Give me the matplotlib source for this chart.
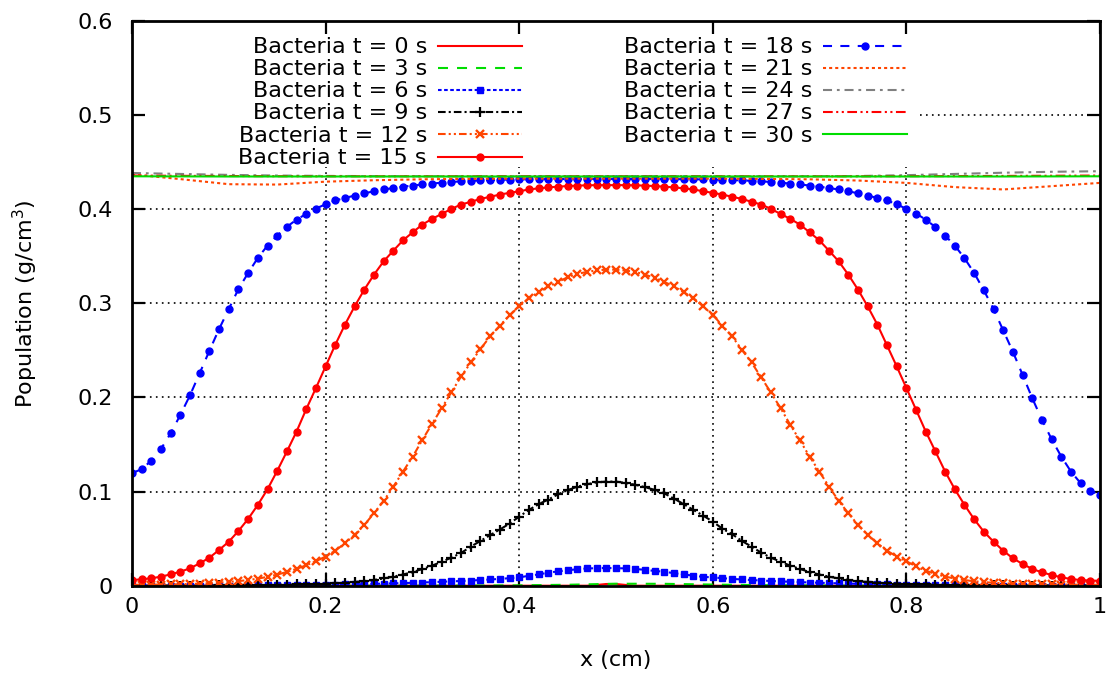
import numpy as np
import matplotlib
matplotlib.use('Agg')
import matplotlib.pyplot as plt

plt.rcParams['font.family'] = 'DejaVu Sans'
plt.rcParams['font.size'] = 16
plt.rcParams['mathtext.default'] = 'regular'
plt.rcParams['lines.scale_dashes'] = False

# ---------------- data ----------------
x_fine = np.linspace(0.0, 1.0, 101)      # solver grid, dx = 0.01
x_coarse = np.linspace(0.0, 1.0, 21)     # for the curves drawn without markers

t0_x = [0.0, 0.47, 0.48, 0.49, 0.50, 0.51, 0.52, 1.0]
t0 = [0.0, 0.0, 0.0008, 0.0018, 0.0018, 0.0008, 0.0, 0.0]

t3 = [0.0, 0.0, 0.0, 0.0, 0.0, 0.0, 0.0001, 0.0002, 0.0004, 0.0010,
      0.0021, 0.0020, 0.0012, 0.0006, 0.0003, 0.0001, 0.0, 0.0, 0.0, 0.0, 0.0]

t6 = [0.0000, 0.0000, 0.0000, 0.0000, 0.0001, 0.0001, 0.0001, 0.0001, 0.0001, 0.0001,
      0.0002, 0.0002, 0.0002, 0.0003, 0.0003, 0.0004, 0.0005, 0.0006, 0.0007, 0.0008,
      0.0010, 0.0011, 0.0013, 0.0015, 0.0017, 0.0020, 0.0022, 0.0025, 0.0028, 0.0031,
      0.0034, 0.0038, 0.0042, 0.0046, 0.0050, 0.0055, 0.0060, 0.0066, 0.0072, 0.0080,
      0.0089, 0.0105, 0.0120, 0.0138, 0.0152, 0.0164, 0.0175, 0.0183, 0.0186, 0.0188,
      0.0186, 0.0184, 0.0178, 0.0168, 0.0157, 0.0148, 0.0133, 0.0120, 0.0106, 0.0094,
      0.0088, 0.0080, 0.0072, 0.0066, 0.0060, 0.0055, 0.0050, 0.0046, 0.0042, 0.0038,
      0.0034, 0.0031, 0.0028, 0.0025, 0.0022, 0.0020, 0.0017, 0.0015, 0.0013, 0.0011,
      0.0010, 0.0008, 0.0007, 0.0006, 0.0005, 0.0004, 0.0003, 0.0003, 0.0002, 0.0002,
      0.0002, 0.0001, 0.0001, 0.0001, 0.0001, 0.0001, 0.0001, 0.0000, 0.0000, 0.0000,
      0.0000]

t9 = [0.0001, 0.0001, 0.0001, 0.0001, 0.0001, 0.0001, 0.0002, 0.0002, 0.0002, 0.0003,
      0.0003, 0.0004, 0.0005, 0.0006, 0.0007, 0.0009, 0.0011, 0.0013, 0.0016, 0.0019,
      0.0022, 0.0026, 0.0032, 0.0039, 0.0049, 0.0061, 0.0077, 0.0096, 0.0119, 0.0145,
      0.0178, 0.0213, 0.0255, 0.0298, 0.0348, 0.0415, 0.0476, 0.0538, 0.0597, 0.0660,
      0.0734, 0.0805, 0.0866, 0.0915, 0.0970, 0.1015, 0.1052, 0.1078, 0.1098, 0.1106,
      0.1106, 0.1092, 0.1072, 0.1047, 0.1018, 0.0980, 0.0925, 0.0866, 0.0805, 0.0745,
      0.0681, 0.0605, 0.0547, 0.0476, 0.0415, 0.0351, 0.0298, 0.0255, 0.0213, 0.0178,
      0.0145, 0.0119, 0.0096, 0.0077, 0.0061, 0.0049, 0.0039, 0.0032, 0.0026, 0.0022,
      0.0019, 0.0016, 0.0013, 0.0011, 0.0009, 0.0007, 0.0006, 0.0005, 0.0004, 0.0003,
      0.0003, 0.0002, 0.0002, 0.0002, 0.0001, 0.0001, 0.0001, 0.0001, 0.0001, 0.0001,
      0.0001]

t12 = [0.0010, 0.0010, 0.0011, 0.0012, 0.0013, 0.0015, 0.0018, 0.0022, 0.0027, 0.0034,
       0.0040, 0.0049, 0.0060, 0.0075, 0.0094, 0.0118, 0.0146, 0.0179, 0.0217, 0.0260,
       0.0310, 0.0372, 0.0451, 0.0540, 0.0646, 0.0770, 0.0901, 0.1053, 0.1213, 0.1372,
       0.1550, 0.1720, 0.1887, 0.2057, 0.2223, 0.2372, 0.2515, 0.2649, 0.2763, 0.2872,
       0.2968, 0.3057, 0.3117, 0.3180, 0.3227, 0.3277, 0.3313, 0.3334, 0.3351, 0.3358,
       0.3358, 0.3348, 0.3334, 0.3305, 0.3270, 0.3227, 0.3180, 0.3117, 0.3057, 0.2968,
       0.2876, 0.2763, 0.2649, 0.2507, 0.2372, 0.2213, 0.2053, 0.1887, 0.1710, 0.1543,
       0.1372, 0.1213, 0.1053, 0.0901, 0.0770, 0.0646, 0.0540, 0.0451, 0.0372, 0.0310,
       0.0260, 0.0205, 0.0160, 0.0125, 0.0097, 0.0076, 0.0060, 0.0047, 0.0038, 0.0031,
       0.0026, 0.0022, 0.0019, 0.0017, 0.0015, 0.0013, 0.0012, 0.0011, 0.0011, 0.0010,
       0.0010]

t15 = [0.0060, 0.0068, 0.0079, 0.0096, 0.0121, 0.0149, 0.0185, 0.0238, 0.0298, 0.0380,
       0.0468, 0.0582, 0.0710, 0.0859, 0.1025, 0.1220, 0.1426, 0.1638, 0.1876, 0.2100,
       0.2330, 0.2560, 0.2774, 0.2968, 0.3146, 0.3305, 0.3447, 0.3560, 0.3670, 0.3755,
       0.3837, 0.3898, 0.3950, 0.4004, 0.4050, 0.4079, 0.4110, 0.4132, 0.4156, 0.4174,
       0.4191, 0.4210, 0.4222, 0.4232, 0.4240, 0.4246, 0.4251, 0.4254, 0.4256, 0.4256,
       0.4256, 0.4256, 0.4254, 0.4251, 0.4246, 0.4240, 0.4232, 0.4222, 0.4210, 0.4191,
       0.4174, 0.4156, 0.4132, 0.4110, 0.4079, 0.4050, 0.4004, 0.3950, 0.3898, 0.3837,
       0.3755, 0.3670, 0.3560, 0.3447, 0.3305, 0.3146, 0.2968, 0.2774, 0.2553, 0.2330,
       0.2100, 0.1869, 0.1638, 0.1426, 0.1213, 0.1025, 0.0859, 0.0706, 0.0574, 0.0468,
       0.0372, 0.0291, 0.0231, 0.0178, 0.0142, 0.0114, 0.0089, 0.0071, 0.0060, 0.0055,
       0.0052]

t18 = [0.1196, 0.1238, 0.1330, 0.1454, 0.1620, 0.1816, 0.2025, 0.2260, 0.2497, 0.2728,
       0.2940, 0.3153, 0.3323, 0.3483, 0.3614, 0.3720, 0.3813, 0.3890, 0.3950, 0.4007,
       0.4053, 0.4093, 0.4120, 0.4145, 0.4170, 0.4190, 0.4210, 0.4225, 0.4240, 0.4252,
       0.4263, 0.4273, 0.4282, 0.4290, 0.4296, 0.4302, 0.4306, 0.4310, 0.4313, 0.4315,
       0.4317, 0.4318, 0.4319, 0.4320, 0.4320, 0.4321, 0.4321, 0.4321, 0.4321, 0.4321,
       0.4321, 0.4321, 0.4321, 0.4321, 0.4321, 0.4320, 0.4320, 0.4319, 0.4318, 0.4317,
       0.4315, 0.4313, 0.4310, 0.4306, 0.4302, 0.4296, 0.4290, 0.4282, 0.4273, 0.4263,
       0.4252, 0.4240, 0.4225, 0.4210, 0.4190, 0.4170, 0.4145, 0.4120, 0.4093, 0.4053,
       0.4004, 0.3954, 0.3890, 0.3810, 0.3720, 0.3614, 0.3480, 0.3323, 0.3138, 0.2940,
       0.2713, 0.2486, 0.2241, 0.1993, 0.1763, 0.1557, 0.1372, 0.1213, 0.1089, 0.1007,
       0.0965]

t21 = [0.4370, 0.4320, 0.4266, 0.4262, 0.4293, 0.4308, 0.4318, 0.4323, 0.4325, 0.4325,
       0.4325, 0.4325, 0.4325, 0.4322, 0.4318, 0.4305, 0.4280, 0.4235, 0.4210, 0.4245,
       0.4280]
t24 = [0.4385, 0.4375, 0.4365, 0.4358, 0.4354, 0.4352, 0.4351, 0.4350, 0.4350, 0.4350,
       0.4350, 0.4350, 0.4350, 0.4350, 0.4351, 0.4353, 0.4362, 0.4375, 0.4388, 0.4398,
       0.4404]
t27 = [0.4358, 0.4355, 0.4353, 0.4351, 0.4350, 0.4350, 0.4350, 0.4350, 0.4350, 0.4350,
       0.4350, 0.4350, 0.4350, 0.4350, 0.4350, 0.4350, 0.4351, 0.4352, 0.4354, 0.4356,
       0.4358]
t30 = [0.4350, 0.4349, 0.4348, 0.4348, 0.4348, 0.4348, 0.4348, 0.4348, 0.4348, 0.4348,
       0.4348, 0.4348, 0.4348, 0.4348, 0.4348, 0.4348, 0.4348, 0.4348, 0.4348, 0.4349,
       0.4350]

x_ticks = [0.0, 0.2, 0.4, 0.6, 0.8, 1.0]
x_ticklabels = ['0', '0.2', '0.4', '0.6', '0.8', '1']
y_ticks = [0.0, 0.1, 0.2, 0.3, 0.4, 0.5, 0.6]
y_ticklabels = ['0', '0.1', '0.2', '0.3', '0.4', '0.5', '0.6']

# ---------------- styles (gnuplot look) ----------------
LW = 1.5
RED, GREEN, BLUE, ORANGE, GREY = '#ff0000', '#00dd00', '#0000ff', '#ff4500', '#808080'
series = [
    ('Bacteria t = 0 s', t0_x, t0, dict(color=RED, dashes=None)),
    ('Bacteria t = 3 s', x_coarse, t3, dict(color=GREEN, dashes=(7.2, 6.5))),
    ('Bacteria t = 6 s', x_fine, t6, dict(color=BLUE, dashes=(2.6, 1.8), marker='s', ms=5)),
    ('Bacteria t = 9 s', x_fine, t9, dict(color='black', dashes=(5.5, 2.2, 1.5, 2.2),
                                          marker='+', ms=6.5, mew=1.6)),
    ('Bacteria t = 12 s', x_fine, t12, dict(color=ORANGE, dashes=(5.5, 2.2, 1.5, 2.2, 1.5, 2.2),
                                            marker='x', ms=5.5, mew=1.7)),
    ('Bacteria t = 15 s', x_fine, t15, dict(color=RED, dashes=None, marker='o', ms=5)),
    ('Bacteria t = 18 s', x_fine, t18, dict(color=BLUE, dashes=(6.5, 6.0), marker='o', ms=5)),
    ('Bacteria t = 21 s', x_coarse, t21, dict(color=ORANGE, dashes=(2.2, 2.2))),
    ('Bacteria t = 24 s', x_coarse, t24, dict(color=GREY, dashes=(6.5, 3.5, 2.0, 3.5))),
    ('Bacteria t = 27 s', x_coarse, t27, dict(color=RED, dashes=(7.0, 2.5, 1.5, 2.5, 1.5, 2.5))),
    ('Bacteria t = 30 s', x_coarse, t30, dict(color=GREEN, dashes=None)),
]


def line_kw(st):
    kw = dict(color=st['color'], lw=LW)
    if st['dashes'] is None:
        kw['linestyle'] = '-'
    else:
        kw['dashes'] = st['dashes']
    if 'marker' in st:
        kw.update(marker=st['marker'], ms=st['ms'], mew=st.get('mew', 1.0),
                  mfc=st['color'], mec=st['color'])
    return kw


# pixel layout of the original picture
X0, X1, Y0, Y1 = 132.0, 1100.0, 585.7, 21.0
W, H = 1112, 674


def fx(px):
    return (px - X0) / (X1 - X0)


def fy(py):
    return (Y0 - py) / (Y0 - Y1)


fig = plt.figure(figsize=(W / 100, H / 100), dpi=100)
ax = fig.add_axes([X0 / W, 1 - Y0 / H, (X1 - X0) / W, (Y0 - Y1) / H])

# grid, kept out of the key area
grid_kw = dict(color='black', lw=1.2, dashes=(1.2, 3.1), zorder=0.5)
for gx in [0.2, 0.4, 0.6, 0.8]:
    ax.axvline(gx, ymax=fy(167), **grid_kw)
for gy in [0.1, 0.2, 0.3, 0.4]:
    ax.axhline(gy, **grid_kw)
ax.axhline(0.5, xmin=fx(920), **grid_kw)

for label, xs, ys, st in series:
    ax.plot(xs, ys, **line_kw(st))

# key: two columns, text right-aligned, sample line on the right
key_cols = [(427, series[:6]), (812, series[6:])]
for text_right, entries in key_cols:
    for i, (label, xs, ys, st) in enumerate(entries):
        yc = 45.5 + 22.2 * i
        ax.text(fx(text_right), fy(yc + 7.2), label, transform=ax.transAxes,
                ha='right', va='baseline', fontsize=16)
        x1, x2 = fx(text_right + 11), fx(text_right + 95)
        kw = line_kw(st)
        ax.plot([x1, (x1 + x2) / 2, x2], [fy(yc)] * 3, transform=ax.transAxes,
                clip_on=False, markevery=[1], **kw)

ax.set_xlim(0, 1)
ax.set_ylim(0, 0.6)
ax.set_xticks(x_ticks)
ax.set_xticklabels(x_ticklabels)
ax.set_yticks(y_ticks)
ax.set_yticklabels(y_ticklabels)
ax.tick_params(direction='in', length=9.5, width=1.6, top=True, right=True,
               labelsize=16)
ax.tick_params(axis='y', pad=14)
ax.tick_params(axis='x', pad=8)
for sp in ax.spines.values():
    sp.set_linewidth(2.0)

ax.set_xlabel('x (cm)', fontsize=16)
ax.set_ylabel('Population (g/cm$^3$)', fontsize=16)
ax.xaxis.set_label_coords(0.5, fy(660))
ax.xaxis.label.set_va('center')
ax.yaxis.set_label_coords(fx(25), 0.5)
ax.yaxis.label.set_va('center')

fig.savefig('out.png', dpi=100)
